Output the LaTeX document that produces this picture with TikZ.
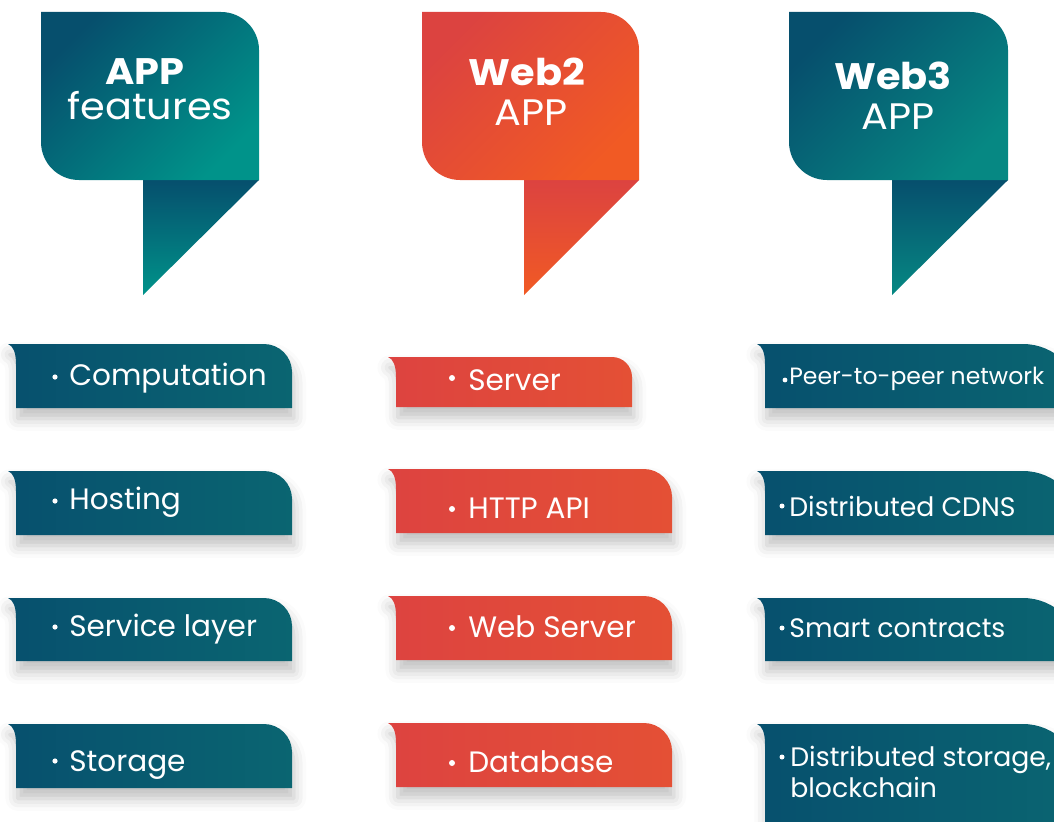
\documentclass[tikz,border=0pt]{standalone}
\usepackage{fontspec}
\setmainfont{Poppins}
\newfontfamily\headfont[FakeStretch=1.08]{Poppins}
\usetikzlibrary{shadows.blur}

\definecolor{tealdark}{HTML}{064F6D}
\definecolor{tealmid}{HTML}{05606F}
\definecolor{teallight}{HTML}{00938A}
\definecolor{webthreelight}{HTML}{068883}
\definecolor{redA}{HTML}{DC4340}
\definecolor{orangeB}{HTML}{F15A24}
\definecolor{tabdark}{HTML}{07506E}
\definecolor{tablight}{HTML}{0A6571}
\definecolor{tabredA}{HTML}{DD4340}
\definecolor{tabredB}{HTML}{E45035}

% speech-bubble body: left x, right x, options
\newcommand{\bubblebody}[3]{%
  \path[#3] (#1,12) -- ({#2-38},12) .. controls ({#2-17},12) and (#2,29) .. (#2,50)
    -- (#2,180) -- ({#1+38},180) .. controls ({#1+17},180) and (#1,163) .. (#1,142) -- cycle;}
% speech-bubble tail: tail left x, right x, options
\newcommand{\bubbletail}[3]{%
  \path[#3] (#1,180) -- (#2,180) -- (#1,295) -- cycle;}
% item tab: main left x, right x, top y, bottom y, corner radius, options
\newcommand{\tabshape}[6]{%
  \path[#6] ({#1-8},#3) -- ({#2-#5},#3) .. controls ({#2-0.45*#5},#3) and (#2,{#3+0.45*#5}) .. (#2,{#3+#5})
    -- (#2,#4) -- (#1,#4) -- (#1,{#3+20}) .. controls (#1,{#3+8}) and ({#1-3},{#3+2}) .. ({#1-8},#3) -- cycle;}

\tikzset{
  headtxt/.style={text=white, inner sep=0pt, font=\headfont\fontsize{21}{24}\selectfont},
  headbold/.style={headtxt, font=\headfont\fontsize{21}{24}\selectfont\bfseries},
  itemtxt/.style={text=white, inner sep=0pt, anchor=base west, font=\fontsize{16.8}{20}\selectfont},
  webtxt/.style={itemtxt, font=\fontsize{15.2}{18}\selectfont},
  bulletdot/.style={fill=white, draw=none},
  tabshadow/.style={blur shadow={shadow xshift=1pt, shadow yshift=-6pt, shadow blur radius=7pt, shadow opacity=25}},
  bluetab/.style={tabshadow, left color=tabdark, right color=tablight},
  redtab/.style={tabshadow, left color=tabredA, right color=tabredB},
}

\begin{document}
\begin{tikzpicture}[x=0.02cm, y=-0.02cm]
\useasboundingbox (0,0) rectangle (1054,821);
\clip (0,0) rectangle (1054,821);

% ---- column headers ----
\bubbletail{143}{259}{top color=tealdark, middle color=tealdark, bottom color=teallight}
\bubblebody{41}{259}{top color=tealdark, bottom color=teallight, shading angle=45}
\bubbletail{524}{639}{top color=redA, bottom color=orangeB}
\bubblebody{422}{639}{top color=redA, bottom color=orangeB, shading angle=45}
\bubbletail{892}{1008}{top color=tealdark, middle color=tealdark, bottom color=webthreelight}
\bubblebody{789}{1008}{top color=tealdark, middle color=tealmid, bottom color=webthreelight, shading angle=45}

\node[headbold] (h1a) at (145,72) {APP};
\node[headtxt] (h1b) at (150,106) {features};
\node[headbold] (h2a) at (527,72) {Web2};
\node[headtxt] (h2b) at (531,113) {APP};
\node[headbold] (h3a) at (893,76) {Web3};
\node[headtxt] (h3b) at (898,117) {APP};

% ---- column 1: generic app features ----
\tabshape{16}{292}{344}{408}{28}{bluetab}
\tabshape{16}{292}{471}{535}{28}{bluetab}
\tabshape{16}{292}{598}{661}{28}{bluetab}
\tabshape{16}{292}{724}{788}{28}{bluetab}
\fill[bulletdot] (55,377) circle (2.6);
\fill[bulletdot] (55,501) circle (2.6);
\fill[bulletdot] (55,627) circle (2.6);
\fill[bulletdot] (55,761) circle (2.6);
\node[itemtxt] (c1) at (69,385) {Computation};
\node[itemtxt] (c2) at (69,509) {Hosting};
\node[itemtxt] (c3) at (69,636) {Service layer};
\node[itemtxt] (c4) at (69,771) {Storage};

% ---- column 2: web2 stack ----
\tabshape{396}{632}{357}{407}{20}{redtab}
\tabshape{396}{672}{469}{533}{28}{redtab}
\tabshape{396}{672}{596}{660}{28}{redtab}
\tabshape{396}{672}{723}{787}{28}{redtab}
\fill[bulletdot] (452,378) circle (3);
\fill[bulletdot] (452,509) circle (3);
\fill[bulletdot] (452,628) circle (3);
\fill[bulletdot] (452,763) circle (3);
\node[itemtxt] (w1) at (468,390) {Server};
\node[itemtxt] (w2) at (468,518) {HTTP API};
\node[itemtxt] (w3) at (468,637) {Web Server};
\node[itemtxt] (w4) at (468,772) {Database};

% ---- column 3: web3 stack ----
\tabshape{765}{1081}{344}{408}{58}{bluetab}
\tabshape{765}{1081}{471}{535}{58}{bluetab}
\tabshape{765}{1081}{598}{661}{58}{bluetab}
\tabshape{765}{1081}{724}{860}{58}{bluetab}
\fill[bulletdot] (785,380) circle (2.4);
\fill[bulletdot] (782,506) circle (2.5);
\fill[bulletdot] (782,628) circle (2.5);
\fill[bulletdot] (782,757) circle (2.5);
\node[webtxt, font=\fontsize{13.4}{16}\selectfont] (t1) at (789,384) {Peer-to-peer network};
\node[webtxt] (t2) at (789,516) {Distributed CDNS};
\node[webtxt] (t3) at (789,637) {Smart contracts};
\node[webtxt] (t4) at (790,766) {Distributed storage,};
\node[webtxt] (t5) at (790,797) {blockchain};
\end{tikzpicture}
\end{document}
